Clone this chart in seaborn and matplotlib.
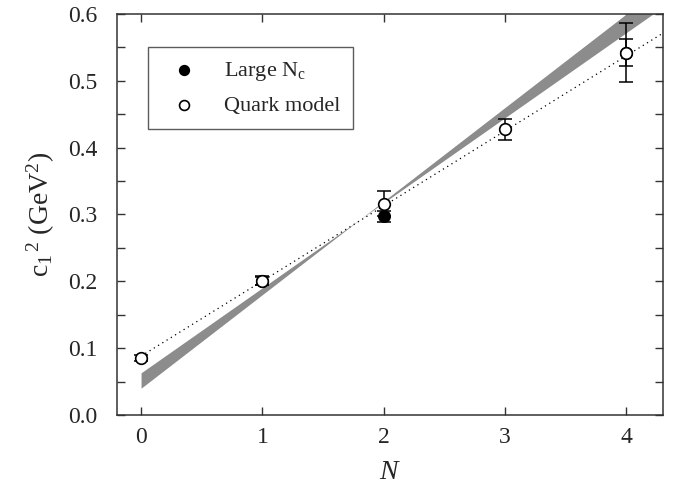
import numpy as np
import pandas as pd
import seaborn as sns
import matplotlib.pyplot as plt
from matplotlib.ticker import MultipleLocator

# data
n_quark = [0, 1, 2, 3, 4]
c_quark = [0.085, 0.201, 0.316, 0.427, 0.542]
err_quark = [0.005, 0.007, 0.019, 0.015, 0.020]

n_large = [1, 2, 4]
c_large = [0.200, 0.297, 0.542]
err_large = [0.006, 0.008, 0.044]

# band edges (two straight lines, values at N=0 and N=4)
band_n = [0.0, 4.0]
band_a = [0.040, 0.600]
band_b = [0.063, 0.572]

# dotted fit line, values at N=0 and N=4.3
fit_n = [0.0, 4.3]
fit_c = [0.088, 0.571]

sns.set_style("ticks")
plt.rcParams["font.family"] = ["Liberation Serif", "DejaVu Serif"]
plt.rcParams["mathtext.fontset"] = "custom"
plt.rcParams["mathtext.rm"] = "Liberation Serif"
plt.rcParams["mathtext.it"] = "Liberation Serif:italic"

fig = plt.figure(figsize=(6.75, 4.94), dpi=100)
ax = fig.add_axes([0.173, 0.160, 0.809, 0.812])

# shaded band, extended linearly to the right edge
xs = np.array([0.0, 4.3])
sa = (band_a[1] - band_a[0]) / (band_n[1] - band_n[0])
sb = (band_b[1] - band_b[0]) / (band_n[1] - band_n[0])
ya = band_a[0] + sa * xs
yb = band_b[0] + sb * xs
ax.fill_between(xs, ya, yb, color="#8c8c8c", lw=0, zorder=1)

fit_df = pd.DataFrame({"N": fit_n, "c": fit_c})
sns.lineplot(data=fit_df, x="N", y="c", ax=ax, color="black", lw=0.9,
             linestyle=(0, (1, 3)), zorder=2)

ax.errorbar(n_large, c_large, yerr=err_large, fmt="none", ecolor="black",
            elinewidth=1.1, capsize=5, capthick=1.1, zorder=3)
ax.errorbar(n_quark, c_quark, yerr=err_quark, fmt="none", ecolor="black",
            elinewidth=1.1, capsize=5, capthick=1.1, zorder=3)

large_df = pd.DataFrame({"N": n_large, "c": c_large})
quark_df = pd.DataFrame({"N": n_quark, "c": c_quark})
sns.scatterplot(data=large_df, x="N", y="c", ax=ax, color="black",
                edgecolor="black", s=70, linewidth=1.0, zorder=4,
                label=r"Large N$_\mathrm{c}$")
sns.scatterplot(data=quark_df, x="N", y="c", ax=ax, color="white",
                edgecolor="black", s=70, linewidth=1.2, zorder=5,
                label="Quark model")

ax.set_xlim(-0.2, 4.3)
ax.set_ylim(0.0, 0.6)
ax.xaxis.set_major_locator(MultipleLocator(1))
ax.yaxis.set_major_locator(MultipleLocator(0.1))
ax.yaxis.set_minor_locator(MultipleLocator(0.05))
ax.yaxis.set_major_formatter(plt.FormatStrFormatter("%.1f"))
ax.tick_params(which="both", direction="in", top=True, right=True,
               labelsize=17, color="#333333")
ax.tick_params(which="major", length=6, width=1)
ax.tick_params(which="minor", length=6, width=1)
ax.tick_params(axis="x", pad=9)
ax.tick_params(axis="y", pad=14)
for sp in ax.spines.values():
    sp.set_linewidth(1.1)
    sp.set_color("#333333")

ax.set_xlabel(r"$N$", fontsize=20, labelpad=8)
ax.set_ylabel(r"c$_1$$^{\,2}$ (GeV$^2$)", fontsize=20, labelpad=8)

leg = ax.legend(loc="upper left", bbox_to_anchor=(0.058, 0.918),
                frameon=True, fancybox=False, fontsize=16,
                handletextpad=0.78, borderpad=0.6, labelspacing=0.55,
                borderaxespad=0, handlelength=2.0, markerscale=0.85)
leg.get_frame().set_edgecolor("#333333")
leg.get_frame().set_linewidth(1.0)

fig.savefig("out.png", dpi=100)
